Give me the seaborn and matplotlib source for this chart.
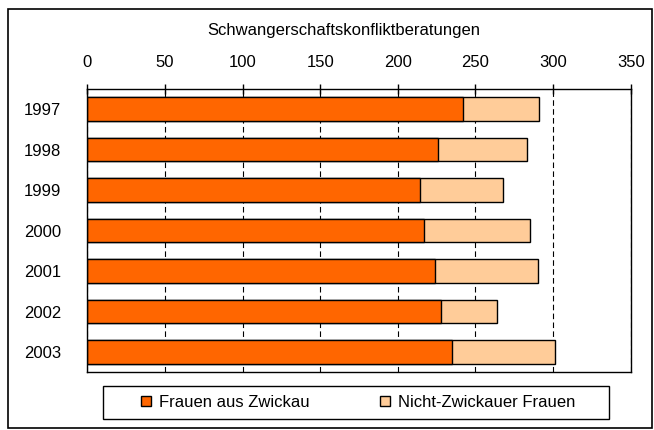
import pandas as pd
import matplotlib
matplotlib.use("Agg")
import matplotlib.pyplot as plt
import seaborn as sns
from matplotlib.patches import Patch, Rectangle

# ── Data ─────────────────────────────────────────────────────────────────────
years = ["1997", "1998", "1999", "2000", "2001", "2002", "2003"]
zwickau = [242, 226, 214, 217, 224, 228, 235]
nicht_zwickau = [49, 57, 54, 68, 66, 36, 66]

TITLE = "Schwangerschaftskonfliktberatungen"
LABELS = ["Frauen aus Zwickau", "Nicht-Zwickauer Frauen"]
C_DARK = "#FF6600"
C_LIGHT = "#FFCC99"

df = pd.DataFrame({"Jahr": years, "Zwickau": zwickau, "Andere": nicht_zwickau})
df["Gesamt"] = df["Zwickau"] + df["Andere"]

sns.set_theme(style="white")
plt.rcParams["font.family"] = ["Liberation Sans", "DejaVu Sans"]
plt.rcParams["text.color"] = "black"
plt.rcParams["xtick.color"] = "black"
plt.rcParams["ytick.color"] = "black"
FS = 12

fig = plt.figure(figsize=(6.54, 4.30), dpi=100)
ax = fig.add_axes([87.3 / 654, 1 - 372.3 / 430, (630.7 - 87.3) / 654, (372.3 - 89) / 430])

# gridlines behind bars
ax.set_axisbelow(True)
ax.grid(axis="x", color="black", linestyle=(0, (5, 3)), linewidth=0.8)

# stacked bars: total first, Zwickau part on top
sns.barplot(data=df, y="Jahr", x="Gesamt", orient="h", color=C_LIGHT, saturation=1,
            edgecolor="black", linewidth=1.0, width=0.58, ax=ax)
sns.barplot(data=df, y="Jahr", x="Zwickau", orient="h", color=C_DARK, saturation=1,
            edgecolor="black", linewidth=1.0, width=0.58, ax=ax)

ax.set_xlim(0, 350)
ax.set_ylim(6.5, -0.5)
ax.set_xticks(range(0, 351, 50))
ax.xaxis.tick_top()
ax.tick_params(axis="x", top=True, bottom=False, direction="inout", length=7.2,
               width=1, color="black", labelcolor="black", labelsize=FS, pad=10)
ax.tick_params(axis="y", left=False, labelcolor="black", labelsize=FS, pad=13)
ax.set_xlabel("")
ax.set_ylabel("")
for s in ax.spines.values():
    s.set_visible(True)
    s.set_color("black")
    s.set_linewidth(1.0)

fig.text(344 / 654, 1 - 31 / 430, TITLE, ha="center", va="center", fontsize=FS,
         color="black")

# legend with its own box
handles = [Patch(facecolor=C_DARK, edgecolor="black", linewidth=1.0),
           Patch(facecolor=C_LIGHT, edgecolor="black", linewidth=1.0)]
fig.legend(handles, LABELS, loc="center", bbox_to_anchor=(358.5 / 654, 1 - 402.5 / 430),
           ncol=2, frameon=False, fontsize=FS, handlelength=0.6, handleheight=0.6,
           handletextpad=0.5, columnspacing=4.2, labelcolor="black")
fig.patches.append(Rectangle((103 / 654, 1 - 419 / 430), 506 / 654, 33 / 430,
                             transform=fig.transFigure, fill=False,
                             edgecolor="black", linewidth=1.0))

# outer chart border
fig.patches.append(Rectangle((8 / 654, 1 - 428 / 430), 644 / 654, 419 / 430,
                             transform=fig.transFigure, fill=False,
                             edgecolor="black", linewidth=1.2))

fig.savefig("out.png", dpi=100)
